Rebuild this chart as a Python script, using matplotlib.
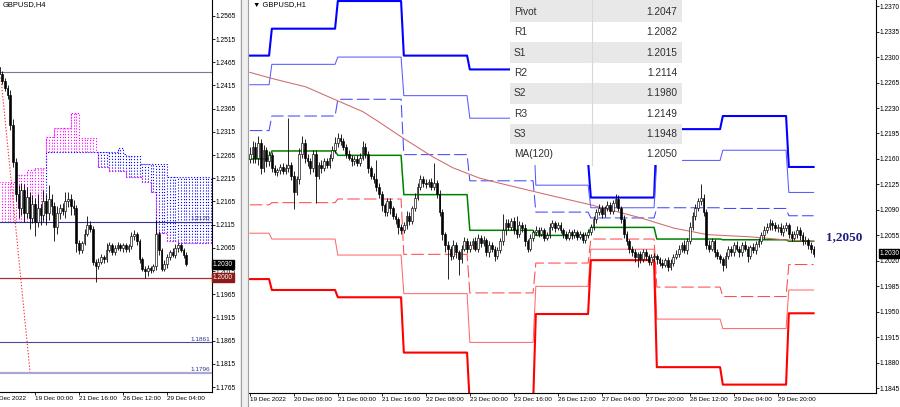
import matplotlib
matplotlib.use("Agg")
import matplotlib.pyplot as plt
import matplotlib.transforms as mtrans
from matplotlib.patches import Rectangle
import numpy as np

plt.rcParams['font.family'] = ['Liberation Sans', 'DejaVu Sans']

W, H = 900, 407

### DATA -------------------------------------------------------------
# left chart, GBPUSD H4 (bar 0 = 19 Dec 00:00)
h4_first_bar = -13
h4_first_open = 1.2455
h4_close = [1.2440, 1.2425, 1.2410, 1.2395,
            1.2330, 1.2250, 1.2180, 1.2150,
            1.2190, 1.2140, 1.2175, 1.2130, 1.2160, 1.2120, 1.2150, 1.2135, 1.2165, 1.2140,
            1.2170, 1.2155, 1.2110, 1.2140, 1.2150, 1.2145, 1.2165, 1.2170, 1.2155, 1.2150,
            1.2075, 1.2060, 1.2075, 1.2095, 1.2115, 1.2105,
            1.2035, 1.2025, 1.2035, 1.2045, 1.2040, 1.2060, 1.2070,
            1.2055, 1.2065, 1.2070, 1.2065, 1.2070, 1.2062, 1.2068,
            1.2090, 1.2095, 1.2080, 1.2040, 1.2020, 1.2015, 1.2022, 1.2018, 1.2025,
            1.2095, 1.2060, 1.2020, 1.2030, 1.2045, 1.2055, 1.2050, 1.2065, 1.2070, 1.2060, 1.2050, 1.2030]
# wicks in pips above / below the body
h4_wick_up = [8, 6, 5, 6, 10, 12, 8, 20,
              15, 12, 20, 10, 18, 12, 30, 10, 25, 15, 30, 12, 8, 15, 10, 12, 20, 15, 10, 12,
              8, 6, 5, 10, 18, 8, 6, 5, 8, 6, 5, 15, 8, 6, 5, 8, 6, 5, 6, 5,
              10, 8, 5, 4, 6, 5, 6, 4, 5, 30, 6, 5, 8, 6, 5, 10, 8, 6, 5, 4, 5]
h4_wick_dn = [5, 8, 6, 10, 12, 10, 15, 20,
              15, 20, 10, 25, 12, 30, 10, 20, 12, 25, 15, 20, 30, 15, 12, 10, 15, 12, 20, 15,
              20, 8, 6, 5, 5, 6, 8, 33, 6, 5, 8, 6, 5, 5, 6, 5, 6, 8, 5, 6,
              6, 8, 10, 8, 6, 15, 10, 8, 6, 8, 10, 6, 5, 8, 6, 5, 6, 8, 5, 6, 5]

# Ichimoku cloud, step values (bar where the value starts)
span_a_start = [-13, -7, -3, 0, 4, 7, 13, 16, 22, 23, 27, 33, 39, 42, 44, 48, 52]
span_a_value = [1.2207, 1.2222, 1.2233, 1.2237, 1.2304, 1.2323, 1.2356, 1.2302, 1.2272,
                1.2240, 1.2230, 1.2218, 1.2207, 1.2185, 1.2097, 1.2080, 1.2075]
span_b_start = [-13, 4, 30, 32, 33, 38, 48]
span_b_value = [1.2121, 1.2272, 1.2280, 1.2268, 1.2263, 1.2245, 1.2218]
cloud_last_bar = 64

h4_levels = [1.2445, 1.2120, 1.2000, 1.1861, 1.1796]
h4_level_colors = ['#7878a8', '#33338f', '#a83232', '#4a4a9a', '#a8a8d8']
h4_level_widths = [0.8, 0.8, 0.9, 0.8, 1.6]
h4_level_labels = {1.2120: '1.2120', 1.1861: '1.1861', 1.1796: '1.1796'}
h4_trend = ([-12.4, -1.8], [1.2432, 1.1797])

h4_yticks = [1.1765, 1.1815, 1.1865, 1.1915, 1.1965, 1.2015, 1.2065, 1.2115, 1.2165,
             1.2215, 1.2265, 1.2315, 1.2365, 1.2415, 1.2465, 1.2515, 1.2565]
h4_xticks = [0, 16, 32, 48]
h4_xlabels = ['19 Dec 00:00', '21 Dec 16:00', '26 Dec 12:00', '29 Dec 04:00']

# right chart, GBPUSD H1 (bar 0 = 19 Dec 16:00)
h1_first_open = 1.2160
h1_close = [1.2167, 1.2177, 1.2162, 1.2182, 1.2147, 1.2172, 1.2157, 1.2165,
            1.2147, 1.2142, 1.2145, 1.2149, 1.2143, 1.2147, 1.2152, 1.2137, 1.2115, 1.2132,
            1.2167, 1.2182, 1.2162, 1.2157, 1.2147, 1.2167, 1.2137, 1.2152, 1.2147, 1.2157, 1.2152,
            1.2162, 1.2172, 1.2182, 1.2189, 1.2185, 1.2177,
            1.2167, 1.2162, 1.2157, 1.2160, 1.2155, 1.2162,
            1.2177, 1.2167, 1.2147, 1.2137,
            1.2132, 1.2122, 1.2112, 1.2097, 1.2087, 1.2102, 1.2092, 1.2082,
            1.2077, 1.2067, 1.2062, 1.2069, 1.2082, 1.2075, 1.2092, 1.2107,
            1.2122, 1.2132, 1.2127, 1.2125, 1.2129, 1.2122, 1.2127,
            1.2112, 1.2087, 1.2057, 1.2042,
            1.2037, 1.2027, 1.2042, 1.2032, 1.2022, 1.2037, 1.2047, 1.2037,
            1.2042, 1.2047, 1.2037, 1.2052, 1.2045, 1.2049, 1.2032, 1.2042, 1.2037, 1.2027, 1.2035,
            1.2047, 1.2062, 1.2072, 1.2067, 1.2075, 1.2062, 1.2057, 1.2069, 1.2065, 1.2047,
            1.2037, 1.2052, 1.2059, 1.2062,
            1.2057, 1.2062, 1.2052, 1.2055, 1.2067, 1.2072, 1.2065, 1.2069, 1.2062, 1.2057,
            1.2052, 1.2059, 1.2055, 1.2060, 1.2053, 1.2057, 1.2049, 1.2055, 1.2059, 1.2067,
            1.2077, 1.2087, 1.2092, 1.2085, 1.2092, 1.2097, 1.2089, 1.2099, 1.2105,
            1.2092, 1.2077, 1.2057, 1.2047, 1.2037,
            1.2032, 1.2025, 1.2029, 1.2022, 1.2032, 1.2027, 1.2019, 1.2025,
            1.2027, 1.2022, 1.2017, 1.2015, 1.2021, 1.2012, 1.2017, 1.2025, 1.2029,
            1.2037, 1.2042, 1.2035, 1.2047, 1.2067, 1.2082, 1.2092,
            1.2102, 1.2107,
            1.2087, 1.2042, 1.2037, 1.2047, 1.2032, 1.2027,
            1.2022, 1.2015, 1.2027, 1.2037, 1.2032,
            1.2042, 1.2037, 1.2032, 1.2042, 1.2037, 1.2027, 1.2039, 1.2035, 1.2043, 1.2047,
            1.2055, 1.2062, 1.2067, 1.2072, 1.2069, 1.2065,
            1.2067, 1.2059, 1.2065, 1.2069, 1.2057, 1.2052,
            1.2057, 1.2063, 1.2055, 1.2047, 1.2049, 1.2042, 1.2037, 1.2030]
h1_wick_up = [10, 8, 6, 9, 5, 7, 4, 6,
              4, 5, 3, 4, 5, 6, 64, 4, 6, 5,
              8, 10, 6, 5, 4, 6, 5, 4, 6, 5, 4,
              5, 6, 8, 6, 5, 4,
              4, 5, 3, 4, 5, 6,
              8, 5, 4, 3,
              4, 27, 5, 4, 3, 5, 4, 3,
              4, 3, 4, 5, 6, 5, 4, 6,
              5, 6, 4, 5, 4, 5, 28,
              4, 5, 4, 3,
              5, 4, 6, 4, 3, 5, 6, 4,
              5, 4, 6, 5, 4, 5, 3, 5, 4, 3, 4,
              5, 22, 6, 5, 4, 5, 20, 6, 4, 5, 3, 5, 4, 6,
              4, 5, 3, 4, 5, 4, 3, 5, 4, 3, 4, 5, 3, 4, 3, 4, 3, 4, 5, 4,
              5, 4, 6, 5, 4, 5, 4, 5, 7,
              5, 4, 6, 4, 3,
              4, 5, 3, 4, 5, 4, 3, 4,
              4, 3, 4, 5, 3, 4, 5, 4, 6,
              5, 4, 6, 5, 6, 5, 6,
              5, 18,
              5, 4, 6, 4, 3, 4,
              3, 4, 5, 4, 3,
              4, 5, 3, 4, 5, 4, 3, 5, 4, 5,
              5, 6, 5, 6, 4, 5,
              4, 5, 4, 5, 3, 4,
              4, 5, 3, 4, 5, 3, 4, 3]
h1_wick_dn = [6, 12, 8, 10, 7, 5, 8, 6,
              5, 4, 6, 5, 4, 3, 5, 6, 24, 5,
              6, 5, 8, 6, 7, 5, 38, 5, 6, 4, 5,
              4, 5, 4, 5, 6, 5,
              5, 4, 6, 5, 4, 5,
              4, 5, 6, 4,
              5, 6, 5, 8, 6, 5, 7, 5,
              6, 10, 5, 4, 5, 6, 5, 4,
              4, 5, 6, 5, 4, 5, 4,
              5, 6, 8, 10,
              42, 6, 5, 8, 22, 5, 4, 6,
              5, 6, 4, 5, 6, 4, 5, 6, 5, 7, 5,
              4, 5, 6, 5, 4, 5, 6, 4, 5, 6, 5, 4, 5, 4,
              4, 3, 5, 4, 3, 4, 5, 3, 4, 5, 3, 4, 5, 3, 4, 3, 5, 4, 3, 4,
              4, 5, 4, 6, 5, 4, 5, 4, 5,
              4, 5, 6, 5, 6,
              5, 6, 14, 5, 4, 6, 5, 4,
              5, 6, 4, 5, 4, 6, 5, 4, 3,
              4, 5, 4, 5, 4, 5, 6,
              4, 5,
              5, 6, 5, 4, 6, 5,
              5, 9, 5, 4, 5,
              5, 4, 6, 5, 4, 8, 5, 4, 5, 4,
              4, 5, 4, 5, 6, 4,
              5, 4, 5, 4, 6, 5,
              4, 5, 6, 5, 4, 5, 6, 5]

# daily pivot levels, one value per trading day (first bar of each day)
day_start = [0, 8, 32, 56, 80, 104, 124, 148, 172, 196]
pivot = [1.2160, 1.2171, 1.2165, 1.2111, 1.2062, 1.2055, 1.2066, 1.2050, 1.2049, 1.2047]
r1 = [1.2199, 1.2219, 1.2242, 1.2166, 1.2130, 1.2087, 1.2079, 1.2093, 1.2092, 1.2082]
r2 = [1.2262, 1.2290, 1.2300, 1.2247, 1.2216, 1.2124, 1.2093, 1.2158, 1.2172, 1.2114]
r3 = [1.2302, 1.2339, 1.2377, 1.2302, 1.2283, 1.2157, 1.2107, 1.2201, 1.2219, 1.2149]
s1 = [1.2097, 1.2100, 1.2105, 1.2029, 1.1976, 1.2017, 1.2050, 1.1984, 1.1971, 1.2015]
s2 = [1.2058, 1.2050, 1.2028, 1.1975, 1.1908, 1.1985, 1.2036, 1.1940, 1.1927, 1.1980]
s3 = [1.1995, 1.1980, 1.1970, 1.1894, 1.1822, 1.1947, 1.2021, 1.1874, 1.1850, 1.1948]

# MA(120) read at a few bars
ma_bar = [0, 7.6, 20.4, 31.3, 41.1, 46.9, 55.6, 66.5, 73.8, 83.3, 90.5, 105.8, 124,
          142.2, 154.2, 166.5, 182.2, 194.2, 205.1]
ma_value = [1.2279, 1.2271, 1.2259, 1.2241, 1.2225, 1.2211, 1.2189, 1.2163, 1.2148, 1.2134,
            1.2127, 1.2113, 1.2097, 1.2079, 1.2065, 1.2056, 1.2053, 1.2049, 1.2047]

table_labels = ['Pivot', 'R1', 'S1', 'R2', 'S2', 'R3', 'S3', 'MA(120)']
table_values = ['1.2047', '1.2082', '1.2015', '1.2114', '1.1980', '1.2149', '1.1948', '1.2050']

h1_yticks = [1.1845, 1.1880, 1.1915, 1.1950, 1.1985, 1.2020, 1.2055, 1.2090, 1.2125,
             1.2160, 1.2195, 1.2230, 1.2265, 1.2300, 1.2335, 1.2370]
h1_xticks = [0, 16, 32, 48, 64, 80, 96, 112, 128, 144, 160, 176, 192]
h1_xlabels = ['19 Dec 2022', '20 Dec 08:00', '21 Dec 00:00', '21 Dec 16:00', '22 Dec 08:00',
              '23 Dec 00:00', '23 Dec 16:00', '26 Dec 12:00', '27 Dec 04:00', '27 Dec 20:00',
              '28 Dec 12:00', '29 Dec 04:00', '29 Dec 20:00']
last_price = 1.2030
### END DATA ---------------------------------------------------------


def px_rect(x0, y0, x1, y1):
    """ pixel box (top-left origin) -> figure fraction """
    return [x0 / W, 1 - y1 / H, (x1 - x0) / W, (y1 - y0) / H]


def candles(ax, first_bar, first_open, close, wick_up, wick_dn):
    close = np.array(close)
    opn = np.concatenate([[first_open], close[:-1]])
    x = np.arange(first_bar, first_bar + len(close))
    top = np.maximum(opn, close)
    bot = np.minimum(opn, close)
    hi = top + np.array(wick_up) * 0.0001
    lo = bot - np.array(wick_dn) * 0.0001
    ax.vlines(x, lo, hi, color='black', lw=0.6, zorder=3)
    h = np.maximum(top - bot, 0.00006)
    up = close >= opn
    ax.bar(x[up], h[up], 0.62, bot[up], facecolor='white', edgecolor='black', lw=0.45, zorder=4)
    ax.bar(x[~up], h[~up], 0.62, bot[~up], facecolor='black', edgecolor='black', lw=0.45, zorder=4)


def style_axes(ax):
    for s in ('top', 'left'):
        ax.spines[s].set_visible(False)
    for s in ('right', 'bottom'):
        ax.spines[s].set_linewidth(0.8)
    ax.yaxis.tick_right()
    ax.tick_params(direction='out', length=1.8, width=0.6, pad=0.8, colors='black')
    ax.tick_params(axis='y', labelsize=4.8)
    ax.tick_params(axis='x', labelsize=4.6, pad=1.2)
    ax.yaxis.set_major_formatter(plt.FormatStrFormatter('%.4f'))


def price_box(ax, y, text, fc):
    tr = mtrans.blended_transform_factory(ax.transAxes, ax.transData)
    ax.text(1.006, y, text, transform=tr, ha='left', va='center', fontsize=4.8,
            color='white', zorder=20, clip_on=False,
            bbox=dict(boxstyle='square,pad=0.15', fc=fc, ec=fc))


fig = plt.figure(figsize=(W / 100, H / 100), dpi=100)
fig.patch.set_facecolor('white')

# ---------------- left: H4 ----------------
ax4 = fig.add_axes(px_rect(0, 0, 211.7, 391.7))
style_axes(ax4)
ax4.set_xlim(-12.73, 64.25)
ax4.set_ylim(1.17549, 1.25991)

bars = np.arange(-13, cloud_last_bar + 1)
sa = np.array(span_a_value)[np.searchsorted(span_a_start, bars, side='right') - 1]
sb = np.array(span_b_value)[np.searchsorted(span_b_start, bars, side='right') - 1]
cloud_col = np.where(sa >= sb, '#ff00ff', '#0000ff')
ax4.vlines(bars, np.minimum(sa, sb), np.maximum(sa, sb), colors=cloud_col, lw=0.8,
           linestyles=(0, (1, 1.6)), zorder=1)
ax4.plot(bars, sa, drawstyle='steps-post', color='#ff00ff', lw=0.8, ls=(0, (1, 1.6)), zorder=1)
ax4.plot(bars, sb, drawstyle='steps-post', color='#0000ff', lw=0.8, ls=(0, (1, 1.6)), zorder=1)

for lv, c, lw in zip(h4_levels, h4_level_colors, h4_level_widths):
    ax4.axhline(lv, color=c, lw=lw, zorder=2)
    if lv in h4_level_labels:
        ax4.text(63.6, lv + 0.0002, h4_level_labels[lv], ha='right', va='bottom',
                 fontsize=4.6, color='#33338f', zorder=5)
ax4.plot(*h4_trend, color='#ff3030', lw=0.8, ls=(0, (1.2, 1.6)), zorder=2)

candles(ax4, h4_first_bar, h4_first_open, h4_close, h4_wick_up, h4_wick_dn)

ax4.set_yticks(h4_yticks)
ax4.set_xticks(h4_xticks)
ax4.set_xticklabels(h4_xlabels)
plt.setp(ax4.get_xticklabels(), ha='left')
ax4.text(-16.3, 1.17549 - 0.0009, '16 Dec 2022', ha='left', va='top', fontsize=4.6, clip_on=False)
price_box(ax4, 1.2030, '1.2030', 'black')
price_box(ax4, 1.2000, '1.2000', '#8b1a1a')

# ---------------- right: H1 ----------------
ax1 = fig.add_axes(px_rect(249, 0, 876, 392.7))
style_axes(ax1)
ax1.set_xlim(-0.3, 227.7)
ax1.set_ylim(1.18389, 1.23784)

n1 = len(h1_close)
ends = day_start[1:] + [n1]
styles = [(r3, '#0000ff', 1.5, '-'), (r2, '#5a5aff', 0.75, '-'),
          (r1, '#4646ff', 0.75, (0, (12, 4))), (pivot, '#008000', 1.1, '-'),
          (s1, '#ff4a4a', 0.75, (0, (12, 4))), (s2, '#ff6a6a', 0.75, '-'),
          (s3, '#ff0000', 1.5, '-')]
for vals, col, lw, ls in styles:
    xs, ys = [], []
    for st, en, v in zip(day_start, ends, vals):
        xs += [st, en - 1]
        ys += [v, v]
    ax1.plot(xs, ys, color=col, lw=lw, ls=ls, zorder=2)
ax1.plot(ma_bar, ma_value, color='#d06a6a', lw=0.75, zorder=2)

candles(ax1, 0, h1_first_open, h1_close, h1_wick_up, h1_wick_dn)

ax1.set_yticks(h1_yticks)
ax1.set_xticks(h1_xticks)
ax1.set_xticklabels(h1_xlabels)
plt.setp(ax1.get_xticklabels(), ha='left')
price_box(ax1, last_price, '1.2030', 'black')

# ---------------- overlay (pixel coords) ----------------
ov = fig.add_axes([0, 0, 1, 1], zorder=10)
ov.set_xlim(0, W)
ov.set_ylim(H, 0)
ov.axis('off')

# window separator between the two charts
ov.add_patch(Rectangle((240, 0), 9, H, fc='#f0f0f0', ec='none'))
ov.plot([240.5, 240.5], [0, H], color='#a0a0a0', lw=0.8)
ov.plot([248.3, 248.3], [0, H], color='#a0a0a0', lw=0.8)

ov.text(3, 5, 'GBPUSD,H4', fontsize=5.4, ha='left', va='center')
ov.text(253, 5, '\u25bc GBPUSD,H1', fontsize=5.4, ha='left', va='center')

# pivot table
row_h = 20.4
for k, (lab, val) in enumerate(zip(table_labels, table_values)):
    y0 = 1.5 + k * row_h
    fc = '#e8e8e8' if k % 2 == 0 else 'white'
    top = 0 if k == 0 else y0
    ov.add_patch(Rectangle((510, top), 172, y0 + row_h - top, fc=fc, ec='none'))
    ov.text(514, y0 + row_h / 2, lab, fontsize=7.3, color='#303030', ha='left', va='center')
    ov.text(677, y0 + row_h / 2, val, fontsize=7.3, color='#303030', ha='right', va='center')
ov.plot([592, 592], [0, 1.5 + 8 * row_h], color='#d8d8d8', lw=0.8)

ov.text(826, 237, '1,2050', fontsize=9.5, fontweight='bold', family='Liberation Serif',
        color='#1c1c80', ha='left', va='center')

fig.savefig('out.png', dpi=100, facecolor='white')
